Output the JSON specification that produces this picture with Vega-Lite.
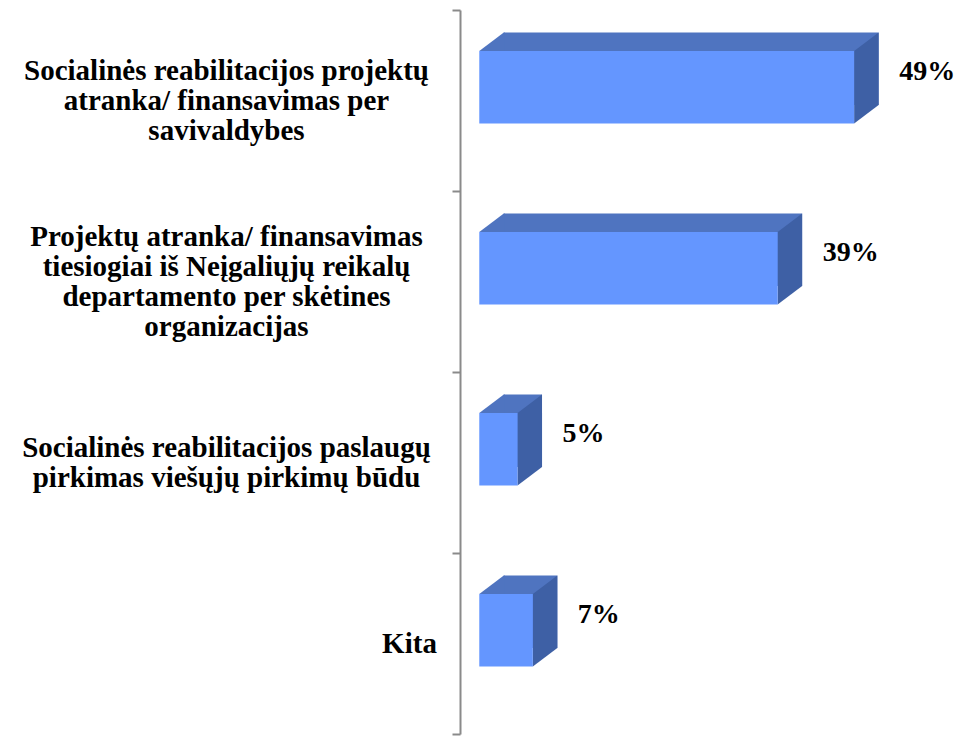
{
  "$schema": "https://vega.github.io/schema/vega-lite/v6.json",
  "width": 503,
  "height": 724,
  "autosize": {"type": "none"},
  "padding": {"left": 460, "top": 10, "right": 0, "bottom": 2},
  "background": "white",
  "config": {"view": {"stroke": null}},
  "data": {
    "values": [
      {"category": "Socialinės reabilitacijos projektų\natranka/ finansavimas per\nsavivaldybes", "value": 0.49},
      {"category": "Projektų atranka/ finansavimas\ntiesiogiai iš Neįgaliųjų reikalų\ndepartamento per skėtines\norganizacijas", "value": 0.39},
      {"category": "Socialinės reabilitacijos paslaugų\npirkimas viešųjų pirkimų būdu", "value": 0.05},
      {"category": "Kita", "value": 0.07}
    ]
  },
  "encoding": {
    "y": {
      "field": "category",
      "type": "nominal",
      "sort": null,
      "scale": {"paddingInner": 0, "paddingOuter": 0},
      "axis": {
        "title": null,
        "grid": false,
        "domainColor": "#8a8a8a",
        "domainWidth": 2,
        "tickColor": "#8a8a8a",
        "tickWidth": 2,
        "tickSize": 8,
        "tickBand": "extent",
        "labelFont": "Liberation Serif",
        "labelFontWeight": "bold",
        "labelFontSize": 29,
        "labelColor": "black",
        "labelAlign": "center",
        "labelBaseline": "middle",
        "labelLineHeight": 30,
        "labelLimit": 600,
        "labelOverlap": false,
        "labelExpr": "datum.value ? split(datum.value, '\\n') : ''",
        "labelOffset": {"expr": "datum.value ? -(length(split(datum.value, '\\n')) - 1) * 15 : 0"},
        "labelPadding": {"condition": {"test": "datum.value === 'Kita'", "value": 43}, "value": 226}
      }
    },
    "x": {
      "field": "value",
      "type": "quantitative",
      "scale": {"domain": [-0.0252, 0.6323], "nice": false, "zero": false},
      "axis": null
    }
  },
  "layer": [
    {"mark": {"type": "bar", "color": "#4F74C0", "height": 72.5, "xOffset": 24.5, "x2Offset": 24.5, "yOffset": -31.75}},
    {
      "mark": {"type": "point", "shape": "M0,-49.5L24.5,-68L25.5,-68L25.5,-49.5Z", "size": 4, "filled": true, "color": "#4F74C0", "opacity": 1, "strokeWidth": 0},
      "encoding": {"x": {"datum": 0, "type": "quantitative"}}
    },
    {"mark": {"type": "point", "shape": "M0,-49.5L24.5,-68L24.5,4.5L0,23Z", "size": 4, "filled": true, "color": "#3E60A5", "opacity": 1, "strokeWidth": 0}},
    {"mark": {"type": "bar", "color": "#6496FF", "height": 72.5, "yOffset": -13.25}},
    {
      "mark": {"type": "text", "align": "left", "baseline": "middle", "dx": 45, "dy": -29, "font": "Liberation Serif", "fontWeight": "bold", "fontSize": 28, "color": "black"},
      "encoding": {"text": {"field": "value", "format": ".0%"}}
    }
  ]
}
